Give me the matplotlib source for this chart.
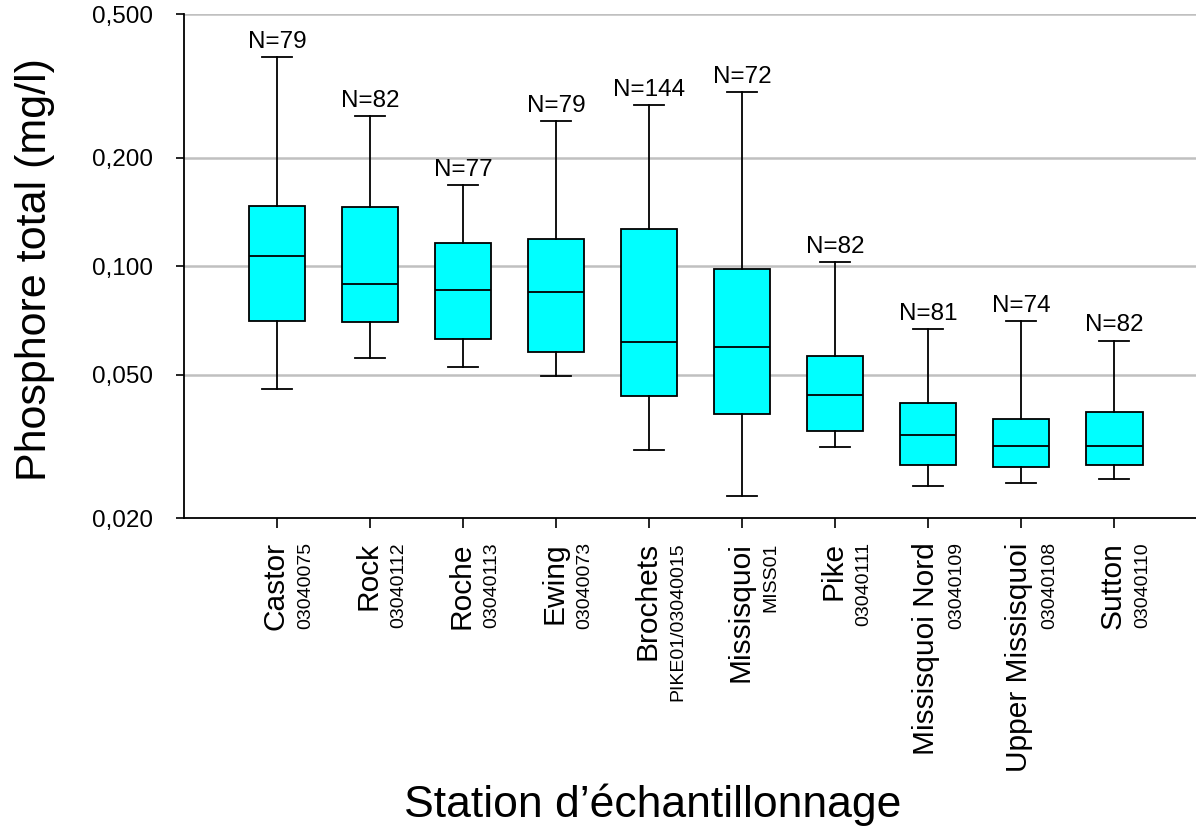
import numpy as np
import matplotlib.pyplot as plt
from matplotlib.ticker import FixedLocator, FuncFormatter, NullLocator

plt.rcParams['font.family'] = ['Liberation Sans', 'DejaVu Sans']

stations = ['Castor', 'Rock', 'Roche', 'Ewing', 'Brochets', 'Missisquoi', 'Pike',
            'Missisquoi Nord', 'Upper Missisquoi', 'Sutton']
codes = ['03040075', '03040112', '03040113', '03040073', 'PIKE01/03040015', 'MISS01',
         '03040111', '03040109', '03040108', '03040110']
counts = [79, 82, 77, 79, 144, 72, 82, 81, 74, 82]

# phosphore total (mg/l)
whisker_low = [0.0457, 0.0557, 0.0526, 0.0494, 0.0308, 0.0230, 0.0314, 0.0245, 0.0250, 0.0256]
q1 = [0.0705, 0.0701, 0.0629, 0.0579, 0.0435, 0.0388, 0.0348, 0.0280, 0.0277, 0.0280]
median = [0.1066, 0.0892, 0.0859, 0.0848, 0.0617, 0.0597, 0.0440, 0.0339, 0.0316, 0.0316]
q3 = [0.1466, 0.1455, 0.1158, 0.1188, 0.1265, 0.0981, 0.0564, 0.0416, 0.0376, 0.0393]
whisker_high = [0.380, 0.261, 0.168, 0.253, 0.280, 0.304, 0.1026, 0.0670, 0.0705, 0.0621]

yticks = [0.02, 0.05, 0.1, 0.2, 0.5]

fig = plt.figure(figsize=(11.96, 8.27), dpi=100)
ax = fig.add_axes([0.1538, 0.3736, 0.8462, 0.6094])

stats = []
for i in range(len(stations)):
    stats.append({'whislo': whisker_low[i], 'q1': q1[i], 'med': median[i],
                  'q3': q3[i], 'whishi': whisker_high[i], 'fliers': []})

pos = np.arange(1, len(stations) + 1)
ax.bxp(stats, positions=pos, widths=0.61, capwidths=0.32, patch_artist=True,
       showfliers=False,
       boxprops=dict(facecolor='#00ffff', edgecolor='black', linewidth=1.3),
       medianprops=dict(color='black', linewidth=1.3),
       whiskerprops=dict(color='black', linewidth=1.3),
       capprops=dict(color='black', linewidth=1.3), zorder=3)

ax.set_yscale('log')
ax.set_ylim(0.02, 0.5)
ax.set_xlim(0, 10.88)
ax.yaxis.set_major_locator(FixedLocator(yticks))
ax.yaxis.set_minor_locator(NullLocator())
ax.yaxis.set_major_formatter(FuncFormatter(lambda v, p: f'{v:.3f}'.replace('.', ',')))
ax.tick_params(axis='y', labelsize=17.5, length=6, width=1.2, pad=16)
ax.tick_params(axis='x', length=7, width=1.2, labelbottom=False)
ax.set_xticks(pos)

for v in yticks[1:]:
    ax.axhline(v, color='#c0c0c0', linewidth=1.8, zorder=1)

for s in ['top', 'right']:
    ax.spines[s].set_visible(False)
ax.spines['left'].set_linewidth(1.3)
ax.spines['bottom'].set_linewidth(1.3)

for x, n, top in zip(pos, counts, whisker_high):
    ax.annotate(f'N={n}', (x, top), xytext=(0, 3), textcoords='offset points',
                ha='center', va='bottom', fontsize=17.5)

tr = ax.get_xaxis_transform()
for x, name, code in zip(pos, stations, codes):
    ax.text(x - 0.02, -0.048, name, transform=tr, rotation=90, ha='center', va='top', fontsize=21.5)
    ax.text(x + 0.31, -0.048, code, transform=tr, rotation=90, ha='center', va='top', fontsize=14)

fig.text(35 / 1196, 1 - 270 / 827, 'Phosphore total (mg/l)', rotation=90,
         ha='center', va='center', fontsize=31)
fig.text(0.546, 0.027, 'Station d\u2019\u00e9chantillonnage', ha='center', va='center', fontsize=32)

fig.savefig('out.png', dpi=100)
